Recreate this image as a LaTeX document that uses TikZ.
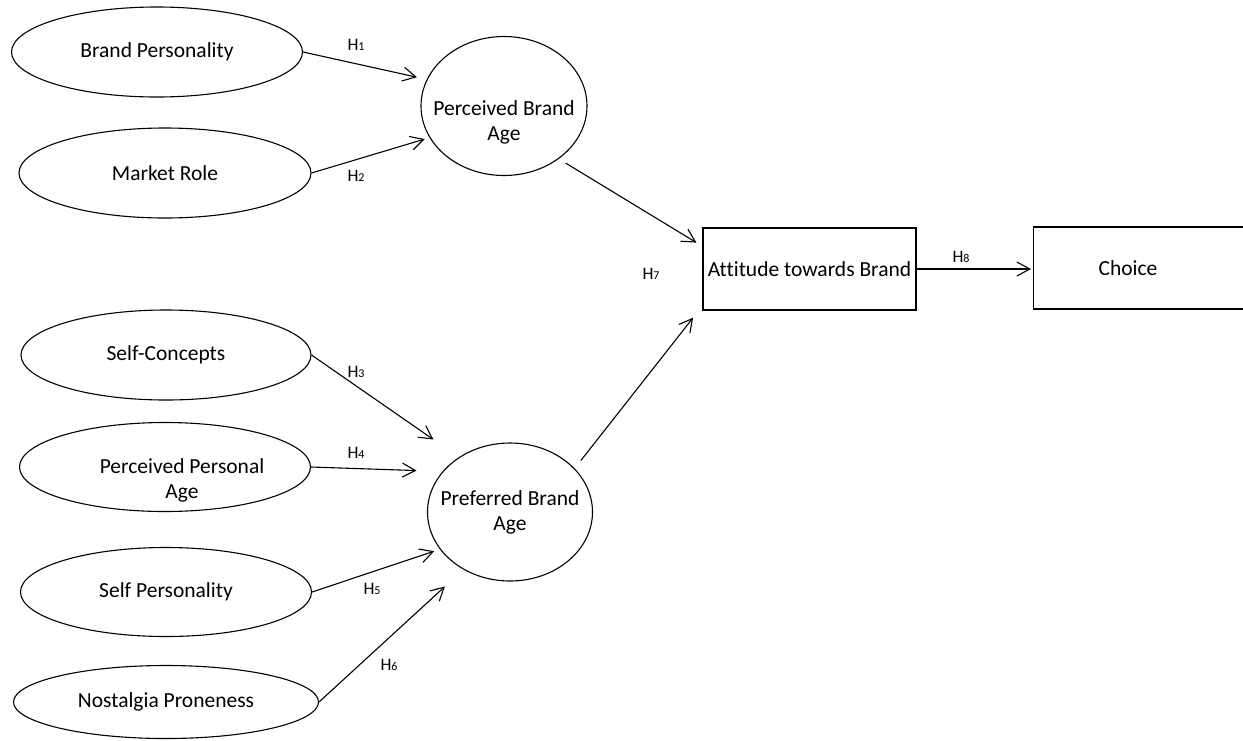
\documentclass[tikz,border=0pt]{standalone}
\usepackage{fontspec}
\setmainfont{Carlito}[Ligatures=CommonOff]
\usetikzlibrary{arrows.meta, shapes.geometric}

\begin{document}
\begin{tikzpicture}[x=1pt, y=-1pt,
    construct/.style={draw, ellipse, line width=1.1pt, inner sep=0pt, align=center,
        font=\fontsize{21.5}{25}\selectfont},
    boxnode/.style={draw, rectangle, line width=1.2pt, minimum height=82pt, inner ysep=0pt,
        font=\fontsize{21.5}{25}\selectfont},
    hyp/.style={-{Straight Barb[length=13pt,width=14pt]}, line width=1.1pt},
    hlabel/.style={inner sep=0pt, font=\fontsize{17.5}{20}\selectfont}]
    \useasboundingbox (0,0) rectangle (1243,740);

    % Antecedents
    \node[construct, minimum width=291pt, minimum height=90pt] (brandpers) at (157,52) {Brand Personality};
    \node[construct, minimum width=292pt, minimum height=90pt] (mktrole) at (165,173) {Market Role};
    \node[construct, minimum width=290pt, minimum height=90pt] (selfconc) at (166,355) {Self-Concepts};
    \node[construct, inner sep=-8pt, minimum width=291pt, minimum height=89pt] (persage) at (165,467)
        {\rule{0pt}{41pt}\hspace*{34pt}Perceived Personal\\\hspace*{34pt}Age};
    \node[construct, minimum width=291pt, minimum height=89pt] (selfpers) at (166,592) {Self Personality};
    \node[construct, minimum width=305pt, minimum height=73pt] (nostalg) at (166,702) {Nostalgia Proneness};

    % Brand age
    \node[construct, inner sep=-14pt, minimum width=166pt, minimum height=139pt] (percage) at (504,106)
        {\rule{0pt}{47pt}Perceived Brand\\Age};
    \node[construct, inner sep=-14pt, minimum width=165pt, minimum height=138pt] (prefage) at (510,512)
        {Preferred Brand\\Age};

    % Outcomes
    \node[boxnode, minimum width=213pt, inner xsep=2pt] (attitude) at (809.5,269) {Attitude towards Brand};
    \node[boxnode, anchor=west, text width=100pt, align=left, inner xsep=65pt] (choice) at (1033,268) {Choice};

    % Paths
    \draw[hyp, shorten >=10pt] (brandpers.east) -- (percage.161);
    \draw[hyp, shorten >=5pt] (mktrole.east) -- (percage.203);
    \draw[hyp, shorten >=31pt] (selfconc.east) -- (prefage.133);
    \draw[hyp, shorten >=26pt] (persage.east) -- (prefage.149);
    \draw[hyp, shorten >=6pt] (selfpers.east) -- (prefage.208);
    \draw[hyp, shorten >=25pt] (nostalg.east) -- (prefage.231);
    \draw[hyp, shorten <=8pt, shorten >=7pt] (percage.-44) -- (attitude.168);
    \draw[hyp, shorten <=10pt, shorten >=15pt] (prefage.34) -- (attitude.199);
    \draw[hyp, shorten >=2pt] (attitude.east) -- (attitude.east -| choice.west);

    % Hypotheses
    \foreach \n/\x/\y in {1/356/45, 2/356/176, 3/356/372, 4/356/453,
                          5/372/589, 6/389/665, 7/651/274, 8/961/257} {
        \node[hlabel] (h\n) at (\x,\y) {H{\fontsize{12}{12}\selectfont\n}};
    }
\end{tikzpicture}
\end{document}
